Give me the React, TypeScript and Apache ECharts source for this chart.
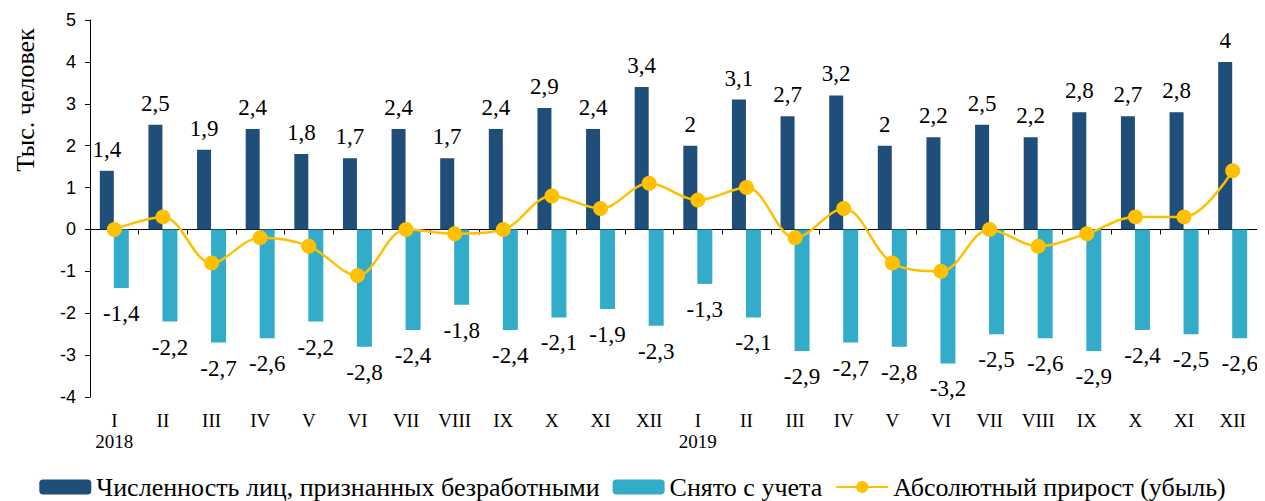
import React, { useEffect, useRef } from "react";
import * as echarts from "echarts";

const months = ["I", "II", "III", "IV", "V", "VI", "VII", "VIII", "IX", "X", "XI", "XII", "I", "II", "III", "IV", "V", "VI", "VII", "VIII", "IX", "X", "XI", "XII"];
const years = ["2018", "", "", "", "", "", "", "", "", "", "", "", "2019", "", "", "", "", "", "", "", "", "", "", ""];
const registered = [1.4, 2.5, 1.9, 2.4, 1.8, 1.7, 2.4, 1.7, 2.4, 2.9, 2.4, 3.4, 2, 3.1, 2.7, 3.2, 2, 2.2, 2.5, 2.2, 2.8, 2.7, 2.8, 4];
const removed = [-1.4, -2.2, -2.7, -2.6, -2.2, -2.8, -2.4, -1.8, -2.4, -2.1, -1.9, -2.3, -1.3, -2.1, -2.9, -2.7, -2.8, -3.2, -2.5, -2.6, -2.9, -2.4, -2.5, -2.6];
const growth = [0, 0.3, -0.8, -0.2, -0.4, -1.1, 0, -0.1, 0, 0.8, 0.5, 1.1, 0.7, 1.0, -0.2, 0.5, -0.8, -1.0, 0, -0.4, -0.1, 0.3, 0.3, 1.4];
const seriesNames = ["Численность лиц, признанных безработными", "Снято с учета", "Абсолютный прирост (убыль)"];
const yTitle = "Тыс. человек";

const serif = "Liberation Serif, Times New Roman, serif";
const sans = "Liberation Sans, Arial, sans-serif";
const fmt = (v: number) => String(v).replace(".", ",");

export default function App() {
  const ref = useRef<HTMLDivElement>(null);
  useEffect(() => {
    if (!ref.current) return;
    const chart = echarts.init(ref.current, undefined, { renderer: "svg" });
    const xLabels = months.map((m, i) => (years[i] ? m + "\n" + years[i] : m));
    chart.setOption({
      animation: false,
      backgroundColor: "#ffffff",
      grid: { left: 82, right: 0, top: 12, bottom: 104 },
      legend: {
        top: 466,
        left: "center",
        padding: 0,
        itemWidth: 52,
        itemHeight: 15,
        itemGap: 13,
        textStyle: { fontFamily: serif, fontSize: 26, lineHeight: 26, color: "#000" },
        data: seriesNames,
      },
      graphic: [
        {
          type: "text",
          x: 17,
          y: 92,
          rotation: Math.PI / 2,
          style: {
            text: yTitle,
            fontFamily: serif,
            fontSize: 26,
            fill: "#000",
            textAlign: "center",
            textVerticalAlign: "middle",
          },
        },
      ],
      xAxis: [
        {
          type: "category",
          data: months,
          position: "bottom",
          axisLine: { onZero: true, lineStyle: { color: "#000", width: 1 } },
          axisTick: { show: true, length: 5, lineStyle: { color: "#000" } },
          axisLabel: { show: false },
        },
        {
          type: "category",
          data: xLabels,
          position: "bottom",
          axisLine: { show: false, onZero: false },
          axisTick: { show: false },
          axisLabel: {
            show: true,
            fontFamily: serif,
            fontSize: 19,
            color: "#000",
            lineHeight: 21,
            margin: 13,
            interval: 0,
            verticalAlign: "top",
          },
        },
      ],
      yAxis: {
        type: "value",
        min: -4,
        max: 5,
        interval: 1,
        splitLine: { show: false },
        axisLine: { show: true, lineStyle: { color: "#000" } },
        axisTick: { show: true, length: 5, lineStyle: { color: "#000" } },
        axisLabel: { fontFamily: sans, fontSize: 18, color: "#000", margin: 14 },
      },
      series: [
        {
          name: seriesNames[0],
          type: "bar",
          data: registered,
          barWidth: 14,
          barGap: "0%",
          itemStyle: { color: "#1F4E79" },
          label: {
            show: true,
            position: "top",
            distance: 10,
            fontFamily: serif,
            fontSize: 23,
            color: "#000",
            formatter: (p: any) => fmt(p.value),
          },
        },
        {
          name: seriesNames[1],
          type: "bar",
          data: removed,
          barWidth: 15,
          itemStyle: { color: "#33ACC9" },
          label: {
            show: true,
            position: "bottom",
            distance: 14,
            fontFamily: serif,
            fontSize: 23,
            color: "#000",
            formatter: (p: any) => fmt(p.value),
          },
        },
        {
          name: seriesNames[2],
          type: "line",
          data: growth,
          smooth: 0.35,
          symbol: "circle",
          symbolSize: 15,
          z: 5,
          lineStyle: { color: "#FFC000", width: 2.5 },
          itemStyle: { color: "#FFC000" },
        },
      ],
    });
    return () => chart.dispose();
  }, []);
  return <div ref={ref} style={{ width: 1249, height: 493 }} />;
}
